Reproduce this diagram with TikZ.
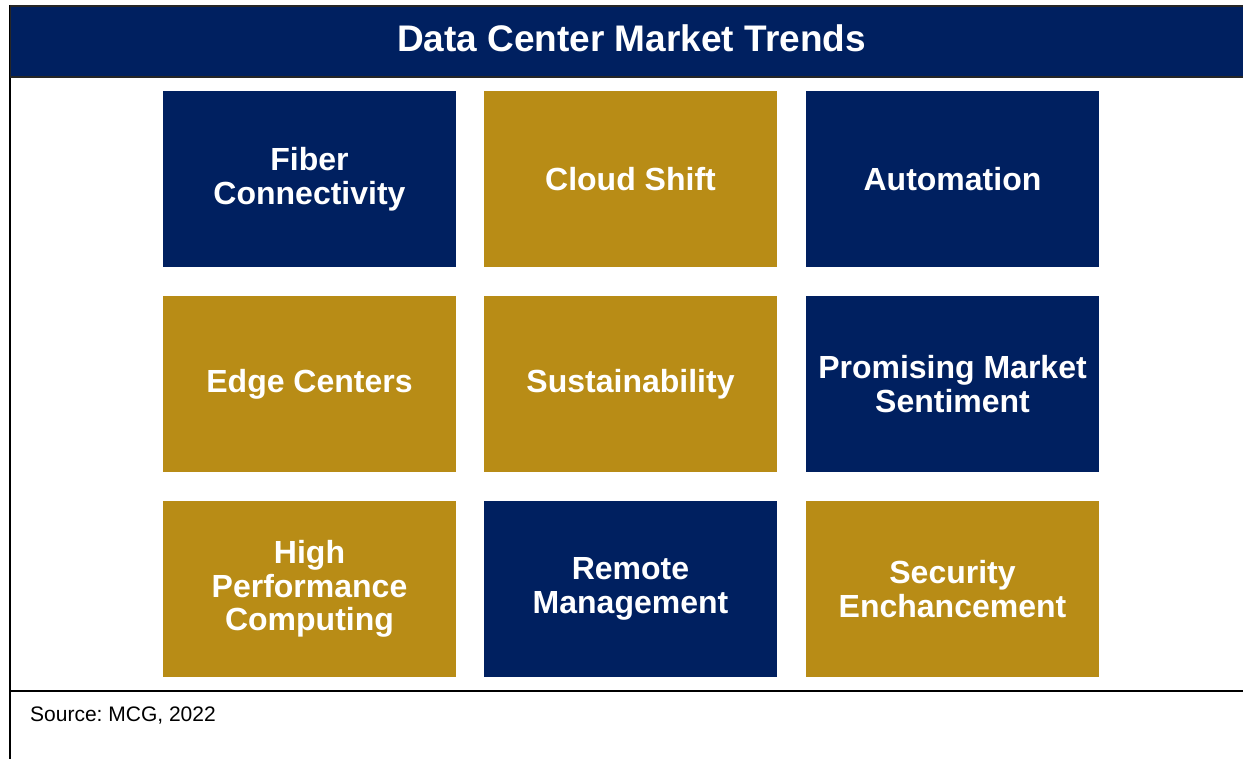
\documentclass[tikz,border=0pt]{standalone}
\usepackage{fontspec}
\setmainfont{Liberation Sans}
\frenchspacing
\definecolor{navy}{RGB}{0,32,96}
\definecolor{gold}{RGB}{184,140,22}
\begin{document}
\begin{tikzpicture}[x=1pt,y=-1pt,
  trendbox/.style={minimum width=293pt,minimum height=176pt,inner sep=0pt,
    text=white,align=center,font=\bfseries\fontsize{32}{33.5}\selectfont},
  navybox/.style={trendbox,fill=navy},
  goldbox/.style={trendbox,fill=gold}]
\useasboundingbox (0,0) rectangle (1243,759);
\fill[white] (0,0) rectangle (1243,759);
% frame lines
\draw[black,line width=2pt] (9.5,5) -- (9.5,759);
\draw[black,line width=2pt] (9.5,691) -- (1245,691);
% title bar
\node[draw=black!85,line width=1.5pt,fill=navy,anchor=north west,
  minimum width=1236pt,minimum height=71pt,inner sep=0pt] (title) at (9.5,5.5) {};
\node[text=white,inner sep=0pt,font=\bfseries\fontsize{37}{40}\selectfont] (titletext) at (631.5,38.5)
  {Data Center Market Trends};
% trend boxes
\node[navybox] (fiber)  at (309.5,179) {Fiber\\Connectivity};
\node[goldbox] (cloud)  at (630.5,179) {Cloud Shift};
\node[navybox] (auto)   at (952.5,179) {Automation};
\node[goldbox] (edge)   at (309.5,384) {Edge Centers};
\node[goldbox] (sust)   at (630.5,384) {Sustainability};
\node[navybox] (market) at (952.5,384) {Promising Market\\Sentiment};
\node[goldbox] (hpc)    at (309.5,589) {High\\Performance\\Computing};
\node[navybox] (remote) at (630.5,589) {Remote\\Management};
\node[goldbox] (secur)  at (952.5,589) {Security\\Enchancement};
% source note
\node[anchor=west,inner sep=0pt,font=\fontsize{21}{24}\selectfont] (source) at (30,716) {Source: MCG, 2022};
\end{tikzpicture}
\end{document}
